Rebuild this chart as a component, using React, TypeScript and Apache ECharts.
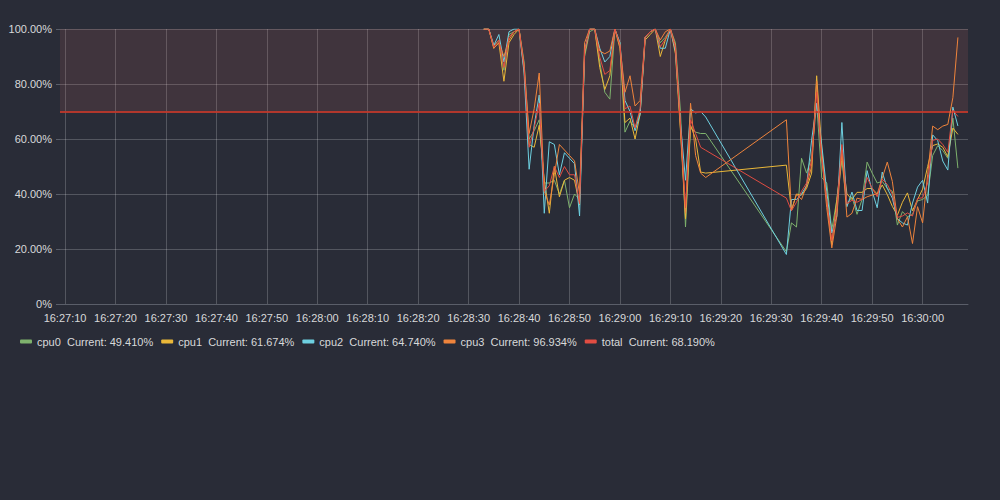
import React, { useEffect, useRef } from "react";
import * as echarts from "echarts";

// Sample times (HH:mm:ss); there is a gap between 16:29:17 and 16:29:33
const times: string[] = [
  "16:28:33","16:28:34","16:28:35","16:28:36","16:28:37","16:28:38","16:28:39","16:28:40","16:28:41","16:28:42",
  "16:28:43","16:28:44","16:28:45","16:28:46","16:28:47","16:28:48","16:28:49","16:28:50","16:28:51","16:28:52",
  "16:28:53","16:28:54","16:28:55","16:28:56","16:28:57","16:28:58","16:28:59","16:29:00","16:29:01","16:29:02",
  "16:29:03","16:29:04","16:29:05","16:29:06","16:29:07","16:29:08","16:29:09","16:29:10","16:29:11","16:29:12",
  "16:29:13","16:29:14","16:29:15","16:29:16","16:29:17",
  "16:29:33","16:29:34","16:29:35","16:29:36","16:29:37","16:29:38","16:29:39","16:29:40","16:29:41","16:29:42",
  "16:29:43","16:29:44","16:29:45","16:29:46","16:29:47","16:29:48","16:29:49","16:29:50","16:29:51","16:29:52",
  "16:29:53","16:29:54","16:29:55","16:29:56","16:29:57","16:29:58","16:29:59","16:30:00","16:30:01","16:30:02",
  "16:30:03","16:30:04","16:30:05","16:30:06","16:30:07",
];

const cpu0: number[] = [
  100,100,94,96,85,98,99,100,88,60,
  63,67,44,44,45,40,45,35,40,38,
  90,99,100,88,77,74.5,100,95,62.5,66.5,
  64,70,97,99,100,95,97,100,95,70,
  28,64,62.5,62,62,
  19,29.5,28,53,47.6,53.5,73,46,44,27,
  38,52,36,39,32.6,38,51.6,47.6,44,44.6,
  42,41,28.7,33.6,31.7,32.6,37.5,38,39.5,54,
  57.6,55.8,53,67.6,49.41,
];

const cpu1: number[] = [
  100,100,93,95,81,95,98,100,85,58,
  57,65,45,33,50,39,45,46,45,36,
  91,100,100,86,78,83,100,93,66,67.6,
  60,69,96,98,100,90,96,100,91,63,
  31,65,60,48,47.6,
  50.5,34,40,39.6,42,47.6,83,56,38,21.6,
  38,54.5,40,38,40.6,40.6,42,42,40,43.3,
  39.8,35.5,32.3,37,40.4,33.9,38,41.8,50,57.6,
  58.2,57,53.6,64,61.674,
];

const cpu2: number[] = [
  100,100,94,98,88,99,100,100,84,49,
  65,76,33,59,58,47,55,53,51,32,
  92,100,100,93,88,90,100,95,74,70,
  63,69,97,99,100,93,93,100,92,66,
  45,71,69.5,70,68,
  18,38,38,40,43,59.6,73,58,41,25.8,
  32,66,35.4,40.7,34,34,48.5,41,35,48,
  42,38.5,31,29.5,28.7,36.7,42.5,45,36.7,61.5,
  59.4,52,48.7,71.6,64.74,
];

const cpu3: number[] = [
  100,100,93,95,90,96,99,100,87,62,
  71,84,41,36,47,58,56,54,52,40,
  95,100,100,92,91,92,100,94,77,83,
  72,74,97,99,100,96,99,100,94,64,
  33,73,54,47.6,46,
  67,34,40,38,43,50,81,53.5,35,20.4,
  32,56,31.6,33,38.5,38,39,39.6,40,45.8,
  51.6,44.6,31,28,31.7,22,35.4,29.5,47,64.7,
  63.4,64.7,65.3,75,96.934,
];

const total: number[] = [
  100,100,93.5,96,86,97,99,100,86,57,
  64,73,41,43,50,46,50,47,47,36.5,
  92,100,100,89.8,83.5,84.9,100,94.3,71,72,
  64,71,97,99,100,93.5,96.3,100,93,65.8,
  35,67,62,57,55.9,
  38.5,33.9,37,41,44,52.5,77,53,38,23,
  35,58,36.5,37.7,37,38,46,42,39,45.4,
  43.5,39.9,31.5,32,33.1,32,38.4,38.6,44,59.5,
  60,58,55.2,70.5,68.19,
];

// x-axis tick labels
const xTickLabels: string[] = [
  "16:27:10","16:27:20","16:27:30","16:27:40","16:27:50","16:28:00","16:28:10","16:28:20","16:28:30",
  "16:28:40","16:28:50","16:29:00","16:29:10","16:29:20","16:29:30","16:29:40","16:29:50","16:30:00",
];
const yTicks: number[] = [0, 20, 40, 60, 80, 100];
const thresholdValue = 70;
const axisStart = "16:27:09";
const axisEnd = "16:30:09";

const seriesNames = ["cpu0", "cpu1", "cpu2", "cpu3", "total"];
const seriesValues = [cpu0, cpu1, cpu2, cpu3, total];
const seriesColors = ["#7eb26d", "#eab839", "#6ed0e0", "#ef843c", "#e24d42"];

// seconds since midnight
function toSec(t: string): number {
  const [h, m, s] = t.split(":").map(Number);
  return h * 3600 + m * 60 + s;
}
function pad(n: number) {
  return n < 10 ? "0" + n : "" + n;
}
function fmtSec(v: number): string {
  const r = Math.round(v);
  const h = Math.floor(r / 3600);
  const m = Math.floor((r % 3600) / 60);
  const s = r % 60;
  return pad(h) + ":" + pad(m) + ":" + pad(s);
}

const FONT = "'Liberation Sans', Arial, sans-serif";

export default function App() {
  const ref = useRef<HTMLDivElement>(null);
  useEffect(() => {
    if (!ref.current) return;
    const chart = echarts.init(ref.current, undefined, { renderer: "svg" });
    const lastVals: Record<string, number> = {};
    seriesNames.forEach((n, i) => {
      const arr = seriesValues[i];
      lastVals[n] = arr[arr.length - 1];
    });
    const tickSec = xTickLabels.map(toSec);
    const series: any[] = seriesNames.map((name, i) => ({
      name,
      type: "line",
      data: times.map((t, j) => [toSec(t), seriesValues[i][j]]),
      showSymbol: false,
      symbol: "none",
      lineStyle: { width: 1, color: seriesColors[i] },
      itemStyle: { color: seriesColors[i] },
      z: 2 + i,
    }));
    series[0].markArea = {
      silent: true,
      itemStyle: { color: "rgba(200,100,100,0.15)" },
      data: [[{ yAxis: thresholdValue }, { yAxis: 100 }]],
    };
    series[0].markLine = {
      silent: true,
      symbol: ["none", "none"],
      label: { show: false },
      lineStyle: { color: "#c0392b", width: 2, type: "solid", opacity: 0.9 },
      data: [{ yAxis: thresholdValue }],
    };
    chart.setOption({
      animation: false,
      backgroundColor: "#292c37",
      textStyle: { fontFamily: FONT },
      grid: { left: 60, right: 32, top: 29, bottom: 196 },
      legend: {
        left: 15,
        top: 331,
        icon: "roundRect",
        itemWidth: 12,
        itemHeight: 4,
        itemGap: 8,
        textStyle: { color: "#d8d9da", fontSize: 11, fontFamily: FONT },
        formatter: (name: string) => `${name}  Current: ${lastVals[name].toFixed(3)}%`,
        data: seriesNames,
      },
      xAxis: {
        type: "value",
        min: toSec(axisStart),
        max: toSec(axisEnd),
        axisLine: { show: true, lineStyle: { color: "#5a5e69" } },
        axisTick: { show: false, customValues: tickSec },
        splitLine: { show: true, lineStyle: { color: "rgba(255,255,255,0.2)", width: 1 } },
        axisLabel: {
          color: "#d8d9da",
          fontSize: 11,
          fontFamily: FONT,
          margin: 8,
          customValues: tickSec,
          formatter: (v: number) => fmtSec(v),
          hideOverlap: false,
        },
      },
      yAxis: {
        type: "value",
        min: yTicks[0],
        max: yTicks[yTicks.length - 1],
        interval: yTicks[1] - yTicks[0],
        axisLine: { show: false },
        axisTick: { show: true, length: 4, lineStyle: { color: "#5a5e69" } },
        splitLine: { show: true, lineStyle: { color: "rgba(255,255,255,0.2)", width: 1 } },
        axisLabel: {
          color: "#d8d9da",
          fontSize: 11,
          fontFamily: FONT,
          margin: 8,
          formatter: (v: number) => (v === 0 ? "0%" : v.toFixed(2) + "%"),
        },
      },
      series,
    });
    return () => chart.dispose();
  }, []);
  return (
    <div
      ref={ref}
      style={{ width: 1000, height: 500, position: "absolute", left: 0, top: 0 }}
    />
  );
}
